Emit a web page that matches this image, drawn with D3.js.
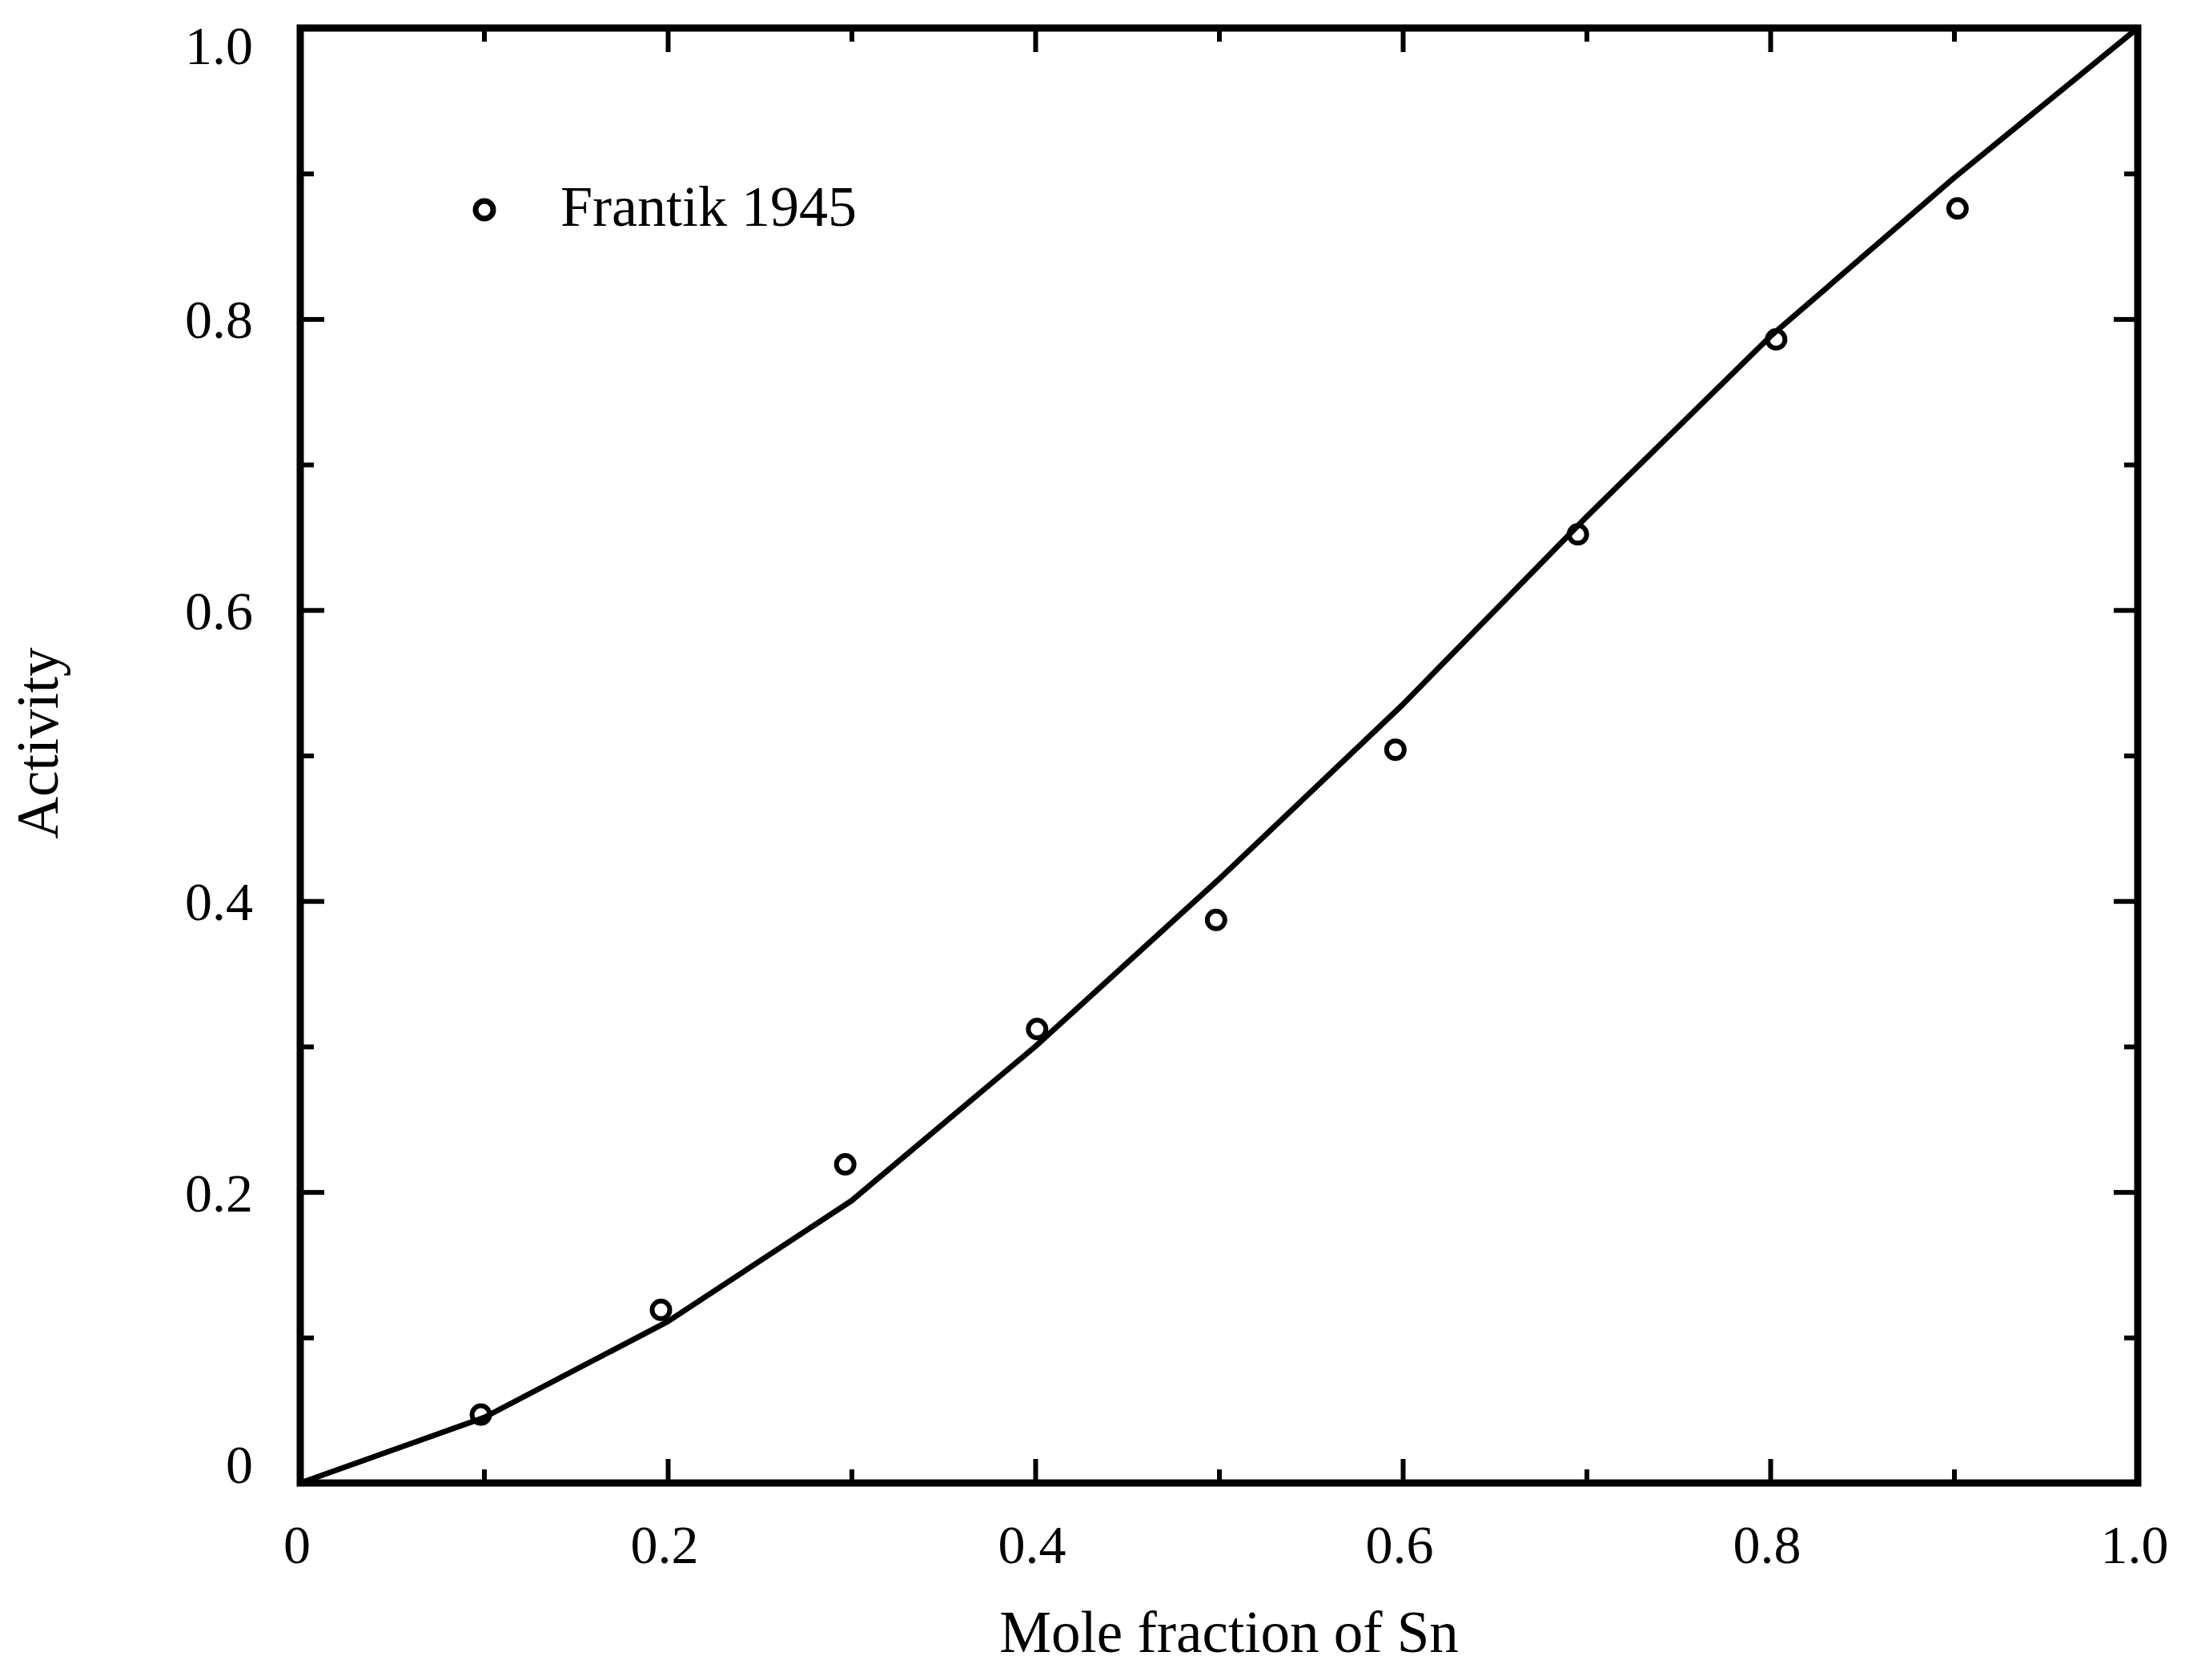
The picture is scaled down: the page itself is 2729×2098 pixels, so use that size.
<!DOCTYPE html>
<html lang="en">
<head>
    <meta charset="UTF-8">
    <title>Activity of Sn</title>
    <script src="https://d3js.org/d3.v7.min.js"></script>
    <style>
        body { margin: 0; background: #fff; }
        text { font-family: "Liberation Serif", "Times New Roman", serif; fill: #000; }
    </style>
</head>
<body>
<div id="chart"></div>
<script>
    // measured points (Frantik 1945)
    const moleFraction = [0.0983, 0.1963, 0.2966, 0.401, 0.4984, 0.596, 0.6953, 0.8032, 0.9019];
    const activity = [0.047, 0.119, 0.219, 0.312, 0.387, 0.504, 0.652, 0.786, 0.876];

    // calculated curve
    const curveFraction = [0, 0.1, 0.2, 0.3, 0.4, 0.5, 0.6, 0.7, 0.8, 0.9, 1.0];
    const curveActivity = [0, 0.045, 0.111, 0.194, 0.300, 0.415, 0.535, 0.664, 0.788, 0.897, 1.0];

    const majorTicks = [0, 0.2, 0.4, 0.6, 0.8, 1.0];
    const minorTicks = [0.1, 0.3, 0.5, 0.7, 0.9];
    const tickLabels = ["0", "0.2", "0.4", "0.6", "0.8", "1.0"];
    const legendLabel = "Frantik 1945";

    var W = 2729, H = 2098;
    var margin = {top: 35, right: 59, bottom: 246, left: 375};
    var plotL = margin.left, plotR = W - margin.right,
        plotT = margin.top, plotB = H - margin.bottom;

    var svg = d3.select("#chart").append("svg")
        .attr("width", W)
        .attr("height", H);

    svg.append("rect").attr("width", W).attr("height", H).attr("fill", "#fff");

    var x = d3.scaleLinear().domain([0, 1]).range([plotL, plotR]);
    var y = d3.scaleLinear().domain([0, 1]).range([plotB, plotT]);

    // inward ticks on all four sides
    function ticks(axis, transform, size, values) {
        var g = svg.append("g")
            .attr("transform", transform)
            .call(axis.tickValues(values).tickSize(size).tickSizeOuter(0).tickFormat(""));
        g.select(".domain").remove();
        g.selectAll(".tick line").attr("stroke", "#000").attr("stroke-width", 6);
    }
    ticks(d3.axisBottom(x), "translate(0," + plotB + ")", -30, majorTicks);
    ticks(d3.axisBottom(x), "translate(0," + plotB + ")", -17, minorTicks);
    ticks(d3.axisTop(x), "translate(0," + plotT + ")", -30, majorTicks);
    ticks(d3.axisTop(x), "translate(0," + plotT + ")", -17, minorTicks);
    ticks(d3.axisLeft(y), "translate(" + plotL + ",0)", -30, majorTicks);
    ticks(d3.axisLeft(y), "translate(" + plotL + ",0)", -17, minorTicks);
    ticks(d3.axisRight(y), "translate(" + plotR + ",0)", -30, majorTicks);
    ticks(d3.axisRight(y), "translate(" + plotR + ",0)", -17, minorTicks);

    // tick labels
    svg.selectAll(".xlab").data(majorTicks).enter().append("text")
        .attr("class", "xlab")
        .attr("x", function (d) { return x(d) - 4; })
        .attr("y", 1952)
        .attr("text-anchor", "middle")
        .style("font-size", "68px")
        .text(function (d, i) { return tickLabels[i]; });

    svg.selectAll(".ylab").data(majorTicks).enter().append("text")
        .attr("class", "ylab")
        .attr("x", 316)
        .attr("y", function (d) {
            // end labels are nudged inside the frame
            return Math.max(plotT + 45, Math.min(plotB, y(d) + 24));
        })
        .attr("text-anchor", "end")
        .style("font-size", "68px")
        .text(function (d, i) { return tickLabels[i]; });

    // curve
    var line = d3.line()
        .x(function (d) { return x(d[0]); })
        .y(function (d) { return y(d[1]); });
    svg.append("path")
        .datum(d3.zip(curveFraction, curveActivity))
        .attr("d", line)
        .attr("fill", "none")
        .attr("stroke", "#000")
        .attr("stroke-width", 7)
        .attr("stroke-linejoin", "round");

    // points
    svg.selectAll(".pt").data(d3.zip(moleFraction, activity)).enter().append("circle")
        .attr("class", "pt")
        .attr("cx", function (d) { return x(d[0]); })
        .attr("cy", function (d) { return y(d[1]); })
        .attr("r", 11)
        .attr("fill", "none")
        .attr("stroke", "#000")
        .attr("stroke-width", 6);

    // frame
    svg.append("rect")
        .attr("x", plotL).attr("y", plotT)
        .attr("width", plotR - plotL).attr("height", plotB - plotT)
        .attr("fill", "none")
        .attr("stroke", "#000")
        .attr("stroke-width", 9);

    // legend
    svg.append("circle")
        .attr("cx", 605).attr("cy", 262)
        .attr("r", 11)
        .attr("fill", "none")
        .attr("stroke", "#000")
        .attr("stroke-width", 7);
    svg.append("text")
        .attr("x", 700).attr("y", 282)
        .style("font-size", "72px")
        .text(legendLabel);

    // axis titles
    svg.append("text")
        .attr("x", 1535).attr("y", 2063)
        .attr("text-anchor", "middle")
        .style("font-size", "73px")
        .text("Mole fraction of Sn");

    svg.append("text")
        .attr("transform", "translate(72,928) rotate(-90)")
        .attr("text-anchor", "middle")
        .style("font-size", "73px")
        .text("Activity");
</script>
</body>
</html>
